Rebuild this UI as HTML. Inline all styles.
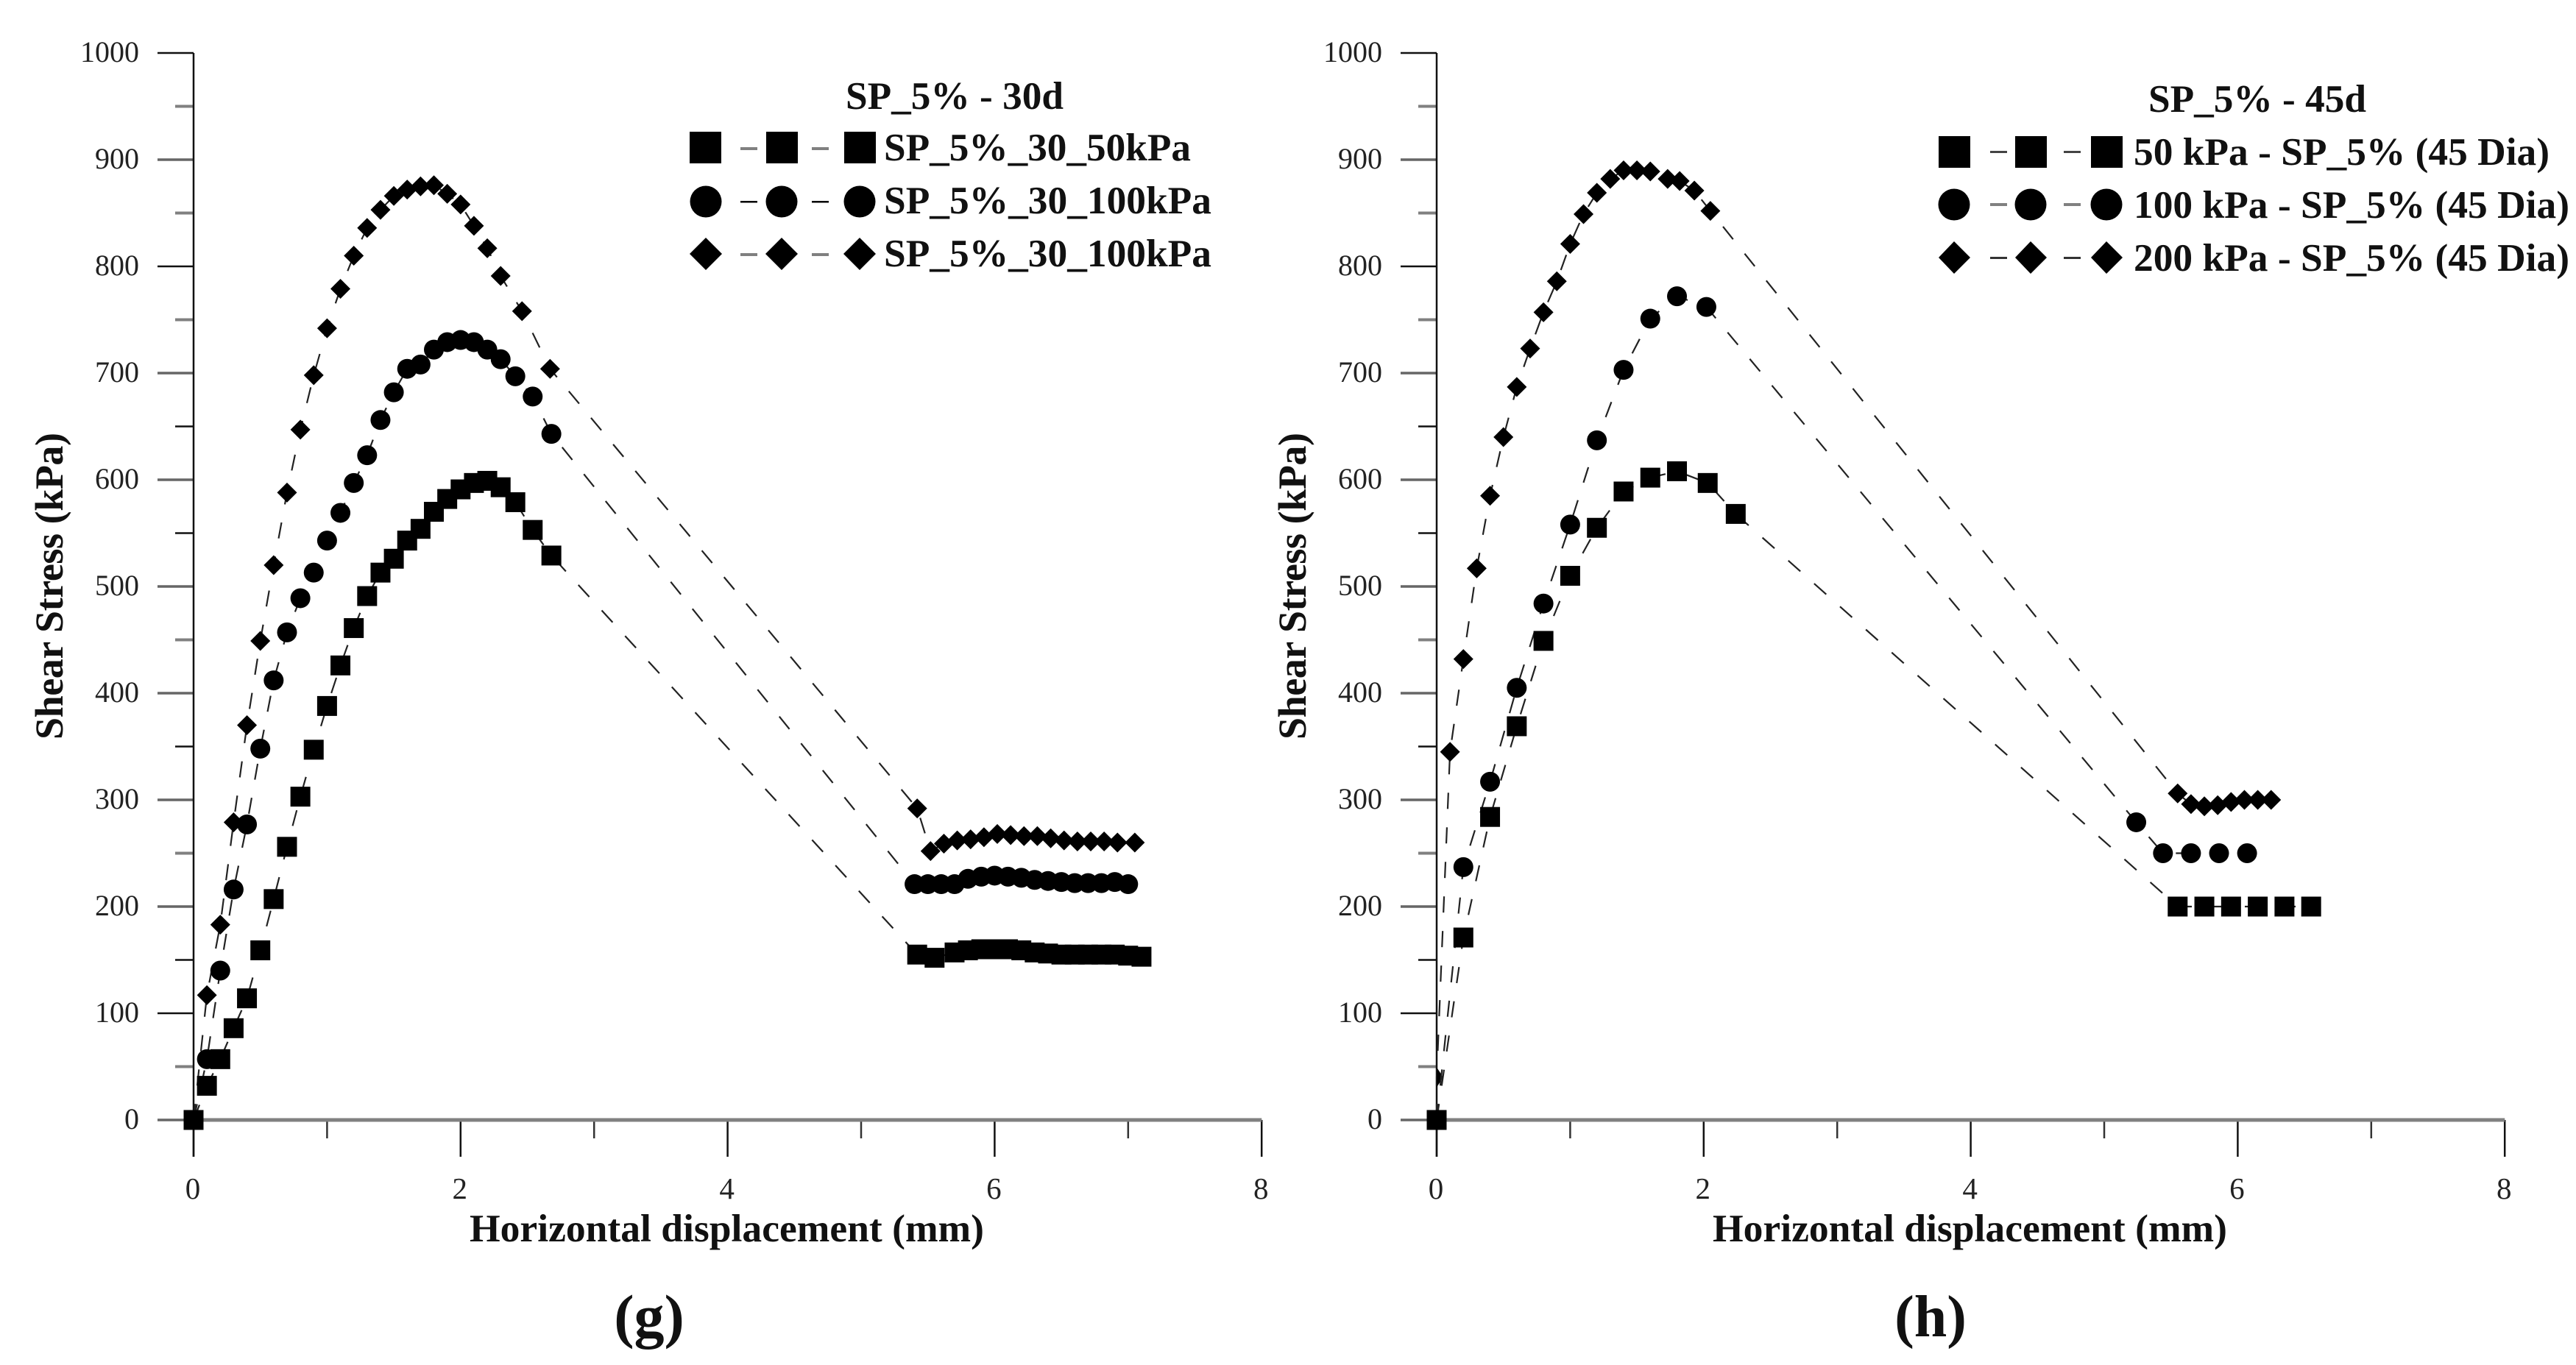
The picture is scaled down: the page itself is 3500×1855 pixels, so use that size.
<!DOCTYPE html>
<html>
<head>
<meta charset="utf-8">
<style>
html,body{margin:0;padding:0;background:#fff;width:3500px;height:1855px;overflow:hidden}
svg{display:block}
text{font-family:"Liberation Serif",serif;fill:#111}
.b{font-weight:bold}
</style>
</head>
<body>
<svg id="figure" xmlns="http://www.w3.org/2000/svg" width="3500" height="1855" viewBox="0 0 3500 1855">
  <rect width="3500" height="1855" fill="#fff"/>

  <g id="chart-g"></g>
  <g id="chart-h"></g>

  <text class="b" x="638" y="1687" font-size="53" textLength="699" lengthAdjust="spacingAndGlyphs">Horizontal displacement (mm)</text>
  <text class="b" x="2327" y="1687" font-size="53" textLength="699" lengthAdjust="spacingAndGlyphs">Horizontal displacement (mm)</text>
  <text class="b" transform="translate(85,1005) rotate(-90)" font-size="54" textLength="417" lengthAdjust="spacing">Shear Stress (kPa)</text>
  <text class="b" transform="translate(1774,1005) rotate(-90)" font-size="54" textLength="417" lengthAdjust="spacing">Shear Stress (kPa)</text>

  <text class="b" x="882" y="1816" font-size="82" text-anchor="middle">(g)</text>
  <text class="b" x="2623" y="1816" font-size="80" text-anchor="middle">(h)</text>

  <g>
    <text class="b" x="1149" y="148" font-size="53" textLength="296" lengthAdjust="spacingAndGlyphs">SP_5% - 30d</text>
    <g>
      <rect x="937" y="179" width="43" height="43" fill="#000"/><rect x="1041" y="179" width="43" height="43" fill="#000"/><rect x="1147" y="179" width="43" height="43" fill="#000"/>
      <rect x="1006" y="200" width="23" height="4" fill="#808080"/><rect x="1103" y="200" width="23" height="4" fill="#808080"/>
      <text x="1201" y="218" class="b" font-size="53" textLength="417" lengthAdjust="spacingAndGlyphs">SP_5%_30_50kPa</text>
    </g>
    <g>
      <ellipse cx="959" cy="274" rx="21.5" ry="21.5" fill="#000"/><ellipse cx="1062" cy="274" rx="21.5" ry="21.5" fill="#000"/><ellipse cx="1168" cy="274" rx="21.5" ry="21.5" fill="#000"/>
      <rect x="1006" y="273" width="23" height="2.5" fill="#000"/><rect x="1103" y="273" width="23" height="2.5" fill="#000"/>
      <text x="1201" y="290" class="b" font-size="53" textLength="445" lengthAdjust="spacingAndGlyphs">SP_5%_30_100kPa</text>
    </g>
    <g>
      <polygon points="937,345 959,323 981,345 959,367" fill="#000"/><polygon points="1040,345 1062,323 1084,345 1062,367" fill="#000"/><polygon points="1146,345 1168,323 1190,345 1168,367" fill="#000"/>
      <rect x="1006" y="344" width="23" height="4" fill="#808080"/><rect x="1103" y="344" width="23" height="4" fill="#808080"/>
      <text x="1201" y="362" class="b" font-size="53" textLength="445" lengthAdjust="spacingAndGlyphs">SP_5%_30_100kPa</text>
    </g>
  </g>

  <g>
    <text class="b" x="2919" y="152" font-size="53" textLength="296" lengthAdjust="spacingAndGlyphs">SP_5% - 45d</text>
    <g>
      <rect x="2634" y="185" width="43" height="43" fill="#000"/><rect x="2738" y="185" width="43" height="43" fill="#000"/><rect x="2841" y="185" width="43" height="43" fill="#000"/>
      <rect x="2704" y="205" width="23" height="3" fill="#444"/><rect x="2804" y="205" width="23" height="3" fill="#444"/>
      <text x="2899" y="224" class="b" font-size="53" textLength="565" lengthAdjust="spacingAndGlyphs">50 kPa - SP_5% (45 Dia)</text>
    </g>
    <g>
      <ellipse cx="2655" cy="278" rx="21.5" ry="21.5" fill="#000"/><ellipse cx="2759" cy="278" rx="21.5" ry="21.5" fill="#000"/><ellipse cx="2862" cy="278" rx="21.5" ry="21.5" fill="#000"/>
      <rect x="2704" y="276" width="23" height="4" fill="#808080"/><rect x="2804" y="276" width="23" height="4" fill="#808080"/>
      <text x="2899" y="296" class="b" font-size="53" textLength="592" lengthAdjust="spacingAndGlyphs">100 kPa - SP_5% (45 Dia)</text>
    </g>
    <g>
      <polygon points="2634,350 2655,328 2677,350 2655,372" fill="#000"/><polygon points="2738,350 2759,328 2781,350 2759,372" fill="#000"/><polygon points="2841,350 2862,328 2884,350 2862,372" fill="#000"/>
      <rect x="2704" y="349" width="23" height="3" fill="#333"/><rect x="2804" y="349" width="23" height="3" fill="#333"/>
      <text x="2899" y="368" class="b" font-size="53" textLength="592" lengthAdjust="spacingAndGlyphs">200 kPa - SP_5% (45 Dia)</text>
    </g>
  </g>
</svg>

<script>
// ---------- tick data ----------
const yTickLabels = [0,100,200,300,400,500,600,700,800,900,1000];
const yMinorTicks = [50,150,250,350,450,550,650,750,850,950];
const xTickLabels = [0,2,4,6,8];
const xMinorTicks = [1,3,5,7];
const yHeavyTicks = [0,200,300,400,500,600,700,900];
const yHeavyMinorTicks = [50,250,450,750,850,950];

// ---------- chart (g) SP_5% - 30d ----------
const gSquareX = [0,0.1,0.2,0.3,0.4,0.5,0.6,0.7,0.8,0.9,1.0,1.1,1.2,1.3,1.4,1.5,1.6,1.7,1.8,1.9,2.0,2.1,2.2,2.3,2.41,2.54,2.68,5.42,5.55,5.7,5.8,5.9,6.0,6.1,6.2,6.3,6.4,6.5,6.6,6.7,6.8,6.9,7.0,7.1];
const gSquareY = [0,32,57,86,114,159,207,256,303,347,388,426,461,491,513,526,543,554,570,582,591,597,599,593,579,553,529,155,152,157,159,160,160,160,159,157,156,155,155,155,155,155,154,153];
const gCircleX = [0,0.1,0.2,0.3,0.4,0.5,0.6,0.7,0.8,0.9,1.0,1.1,1.2,1.3,1.4,1.5,1.6,1.7,1.8,1.9,2.0,2.1,2.2,2.3,2.41,2.54,2.68,5.4,5.5,5.6,5.7,5.8,5.9,6.0,6.1,6.2,6.3,6.4,6.5,6.6,6.7,6.8,6.9,7.0];
const gCircleY = [0,57,140,216,277,348,412,457,489,513,543,569,597,623,656,682,704,708,722,729,731,729,722,713,697,678,643,221,221,221,221,226,228,229,228,227,225,224,223,222,222,222,223,221];
const gDiamondX = [0,0.1,0.2,0.3,0.4,0.5,0.6,0.7,0.8,0.9,1.0,1.1,1.2,1.3,1.4,1.5,1.6,1.7,1.8,1.9,2.0,2.1,2.2,2.3,2.46,2.67,5.42,5.52,5.62,5.72,5.82,5.92,6.02,6.12,6.22,6.32,6.42,6.52,6.62,6.72,6.82,6.92,7.05];
const gDiamondY = [0,117,183,279,370,449,520,588,647,698,742,779,810,836,853,866,872,875,876,868,858,838,817,791,758,704,292,252,259,262,263,265,268,267,266,266,264,262,261,261,261,260,260];

// ---------- chart (h) SP_5% - 45d ----------
const hSquareX = [0,0.2,0.4,0.6,0.8,1.0,1.2,1.4,1.6,1.8,2.03,2.24,5.55,5.75,5.95,6.15,6.35,6.55];
const hSquareY = [0,171,284,369,449,510,555,589,602,608,597,568,200,200,200,200,200,200];
const hCircleX = [0,0.2,0.4,0.6,0.8,1.0,1.2,1.4,1.6,1.8,2.02,5.24,5.44,5.65,5.86,6.07];
const hCircleY = [0,237,317,405,484,558,637,703,751,772,762,279,250,250,250,250];
const hDiamondX = [0,0,0.1,0.2,0.3,0.4,0.5,0.6,0.7,0.8,0.9,1.0,1.1,1.2,1.3,1.4,1.5,1.6,1.73,1.82,1.93,2.05,5.55,5.65,5.75,5.85,5.95,6.05,6.15,6.25];
const hDiamondY = [0,40,345,432,517,585,640,687,723,757,786,821,849,869,882,890,890,889,882,880,871,852,306,296,294,295,298,300,300,300];

// ---------- axis functions ----------
const SVGNS = 'http://www.w3.org/2000/svg';
const xUnit = 181.4, yUnit = 1.45, yBase = 1522;
function yScale(v){ return yBase - v * yUnit; }
function xScale(origin, v){ return origin + v * xUnit; }

function make(tag, attrs, parent){
  const e = document.createElementNS(SVGNS, tag);
  for (const k in attrs) e.setAttribute(k, attrs[k]);
  parent.appendChild(e);
  return e;
}

function drawAxes(root, origin){
  const xEnd = xScale(origin, 8);
  yMinorTicks.forEach(function(v){
    const heavy = yHeavyMinorTicks.indexOf(v) >= 0;
    const t = make('line', {x1: origin-25, x2: origin, y1: yScale(v), y2: yScale(v), stroke: heavy ? '#808080' : '#111', 'stroke-width': heavy ? 4 : 2.5}, root);
    
    
  });
  yTickLabels.forEach(function(v){
    const heavy = yHeavyTicks.indexOf(v) >= 0;
    const t = make('line', {x1: origin-49, x2: origin, y1: yScale(v), y2: yScale(v), stroke: heavy ? '#666' : '#111', 'stroke-width': heavy ? 3.5 : 2.5}, root);
    
    
    const l = make('text', {x: origin-74, y: yScale(v)+12, 'font-size': 40, 'text-anchor': 'end', style: 'fill:#222'}, root);
    l.textContent = v;
    
    
  });
  xMinorTicks.forEach(function(v){
    const t = make('line', {x1: xScale(origin, v), x2: xScale(origin, v), y1: yBase, y2: yBase+25, stroke: '#333', 'stroke-width': 2.5}, root);
    
    
  });
  xTickLabels.forEach(function(v){
    const t = make('line', {x1: xScale(origin, v), x2: xScale(origin, v), y1: yBase, y2: yBase+50, stroke: '#111', 'stroke-width': 2.5}, root);
    
    
    const l = make('text', {x: xScale(origin, v)-1, y: yBase+107, 'font-size': 41, 'text-anchor': 'middle', style: 'fill:#222'}, root);
    l.textContent = v;
    
    
  });
  const ya = make('line', {x1: origin, x2: origin, y1: yScale(1000), y2: yBase+50, stroke: '#111', 'stroke-width': 2.5}, root);
  
  
  const xa = make('line', {x1: origin, x2: xEnd, y1: yBase, y2: yBase, stroke: '#808080', 'stroke-width': 5}, root);
  
  
}

function drawSeries(root, origin, xs, ys, shape, name){
  const pts = xs.map(function(x, i){ return xScale(origin, x) + ',' + yScale(ys[i]); }).join(' ');
  const line = make('polyline', {points: pts, fill: 'none', stroke: '#222', 'stroke-width': 2.2, 'stroke-dasharray': '22 25'}, root);
  
  
  xs.forEach(function(x, i){
    const cx = xScale(origin, x), cy = yScale(ys[i]);
    let m;
    if (shape === 'square') {
      m = make('rect', {x: cx-13.5, y: cy-13.5, width: 27, height: 27, fill: '#000'}, root);
    } else if (shape === 'circle') {
      m = make('ellipse', {cx: cx, cy: cy, rx: 13.5, ry: 13.5, fill: '#000'}, root);
    } else {
      // a diamond sitting on the y axis is cut off at the axis, as in the source
      const hw = x === 0 ? 9 : 13.5;
      const shapePts = x === 0
        ? [cx+','+(cy-13.5), (cx+hw)+','+cy, cx+','+(cy+13.5)].join(' ')
        : [(cx-hw)+','+cy, cx+','+(cy-13.5), (cx+hw)+','+cy, cx+','+(cy+13.5)].join(' ');
      m = make('polygon', {points: shapePts, fill: '#000'}, root);
    }
    
    
  });
}

const gRoot = document.getElementById('chart-g');
const hRoot = document.getElementById('chart-h');
const gOrigin = 263, hOrigin = 1952;

drawAxes(gRoot, gOrigin);
drawSeries(gRoot, gOrigin, gDiamondX, gDiamondY, 'diamond', 'series-g-diamond');
drawSeries(gRoot, gOrigin, gCircleX, gCircleY, 'circle', 'series-g-circle');
drawSeries(gRoot, gOrigin, gSquareX, gSquareY, 'square', 'series-g-square');

drawAxes(hRoot, hOrigin);
drawSeries(hRoot, hOrigin, hDiamondX, hDiamondY, 'diamond', 'series-h-diamond');
drawSeries(hRoot, hOrigin, hCircleX, hCircleY, 'circle', 'series-h-circle');
drawSeries(hRoot, hOrigin, hSquareX, hSquareY, 'square', 'series-h-square');
</script>
</body>
</html>
